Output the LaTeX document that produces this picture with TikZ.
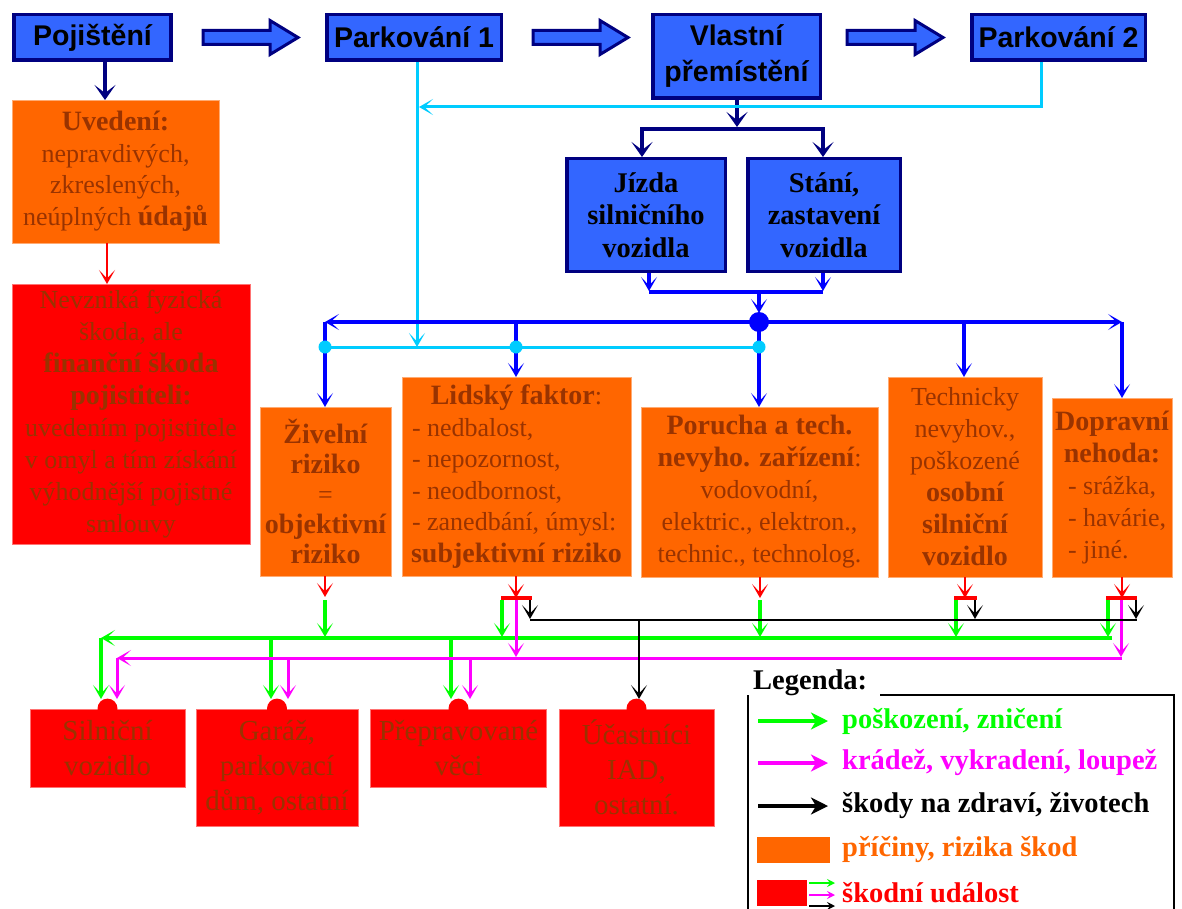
\documentclass[tikz,border=0pt]{standalone}
\usepackage{fontspec}
\setmainfont{Liberation Serif}
\newfontfamily\arialf{Liberation Sans}
\usetikzlibrary{arrows.meta}
\definecolor{boxblue}{HTML}{3366FF}
\definecolor{navyc}{HTML}{000080}
\definecolor{orng}{HTML}{FF6600}
\definecolor{brn}{HTML}{993300}
\definecolor{cyanc}{HTML}{00CCFF}
\definecolor{bluec}{HTML}{0000FF}
\definecolor{greenc}{HTML}{00FF00}
\definecolor{magc}{HTML}{FF00FF}
\definecolor{redc}{HTML}{FF0000}
\newcommand{\mybf}[1]{{\fontsize{28}{32}\selectfont\bfseries #1}}
\tikzset{
  Ah/.tip={Stealth[length=14pt,width=16pt,inset=8.5pt]},
  Nv/.tip={Stealth[length=15pt,width=21pt,inset=8pt]},
  Sm/.tip={Stealth[length=8pt,width=8pt,inset=3pt]},
  Lg/.tip={Stealth[length=17pt,width=17pt,inset=5pt]},
  topbox/.style={draw=navyc, line width=3.5pt, fill=boxblue, font=\arialf\bfseries\fontsize{28.5}{36}\selectfont, align=center, inner sep=0pt},
  bluebox/.style={draw=navyc, line width=3.5pt, fill=boxblue, font=\bfseries\fontsize{28.5}{32.5}\selectfont, align=center, inner sep=0pt},
  orbox/.style={fill=orng, draw=orng!55!white, line width=0.8pt, text=brn, font=\fontsize{26}{31.5}\selectfont, align=center, inner sep=0pt},
  redbox/.style={fill=redc, draw=redc!55!white, line width=0.8pt, text=brn, font=\fontsize{26}{32}\selectfont, align=center, inner sep=0pt},
  botbox/.style={redbox, font=\fontsize{29}{35}\selectfont},
  blockarr/.style={draw=navyc, fill=boxblue, line width=3pt, line join=miter},
  navyarr/.style={draw=navyc, line width=3.5pt, -Nv},
  cyanl/.style={draw=cyanc, line width=3pt},
  bluel/.style={draw=bluec, line width=3.5pt},
  redl/.style={draw=redc, line width=2.5pt},
  greenl/.style={draw=greenc, line width=3.5pt},
  magl/.style={draw=magc, line width=3pt},
  blackl/.style={draw=black, line width=2.5pt},
  legtext/.style={anchor=west, font=\bfseries\fontsize{28.5}{32}\selectfont, inner sep=0pt}
}
\newcommand{\blkarrow}[2]{\draw[blockarr] (#1,30.5) -- ({#2-28},30.5) -- ({#2-28},20.5) -- (#2,37.5) -- ({#2-28},54.5) -- ({#2-28},44.5) -- (#1,44.5) -- cycle;}
\begin{document}
\begin{tikzpicture}[x=1pt,y=-1pt]
\useasboundingbox (0,0) rectangle (1182,909);

% top row
\node[topbox, minimum width=157pt, minimum height=45.5pt] (poj) at (92.5,37.5) {Pojištění};
\node[topbox, minimum width=174.5pt, minimum height=45.5pt] (park1) at (414,37.5) {Parkování 1};
\node[topbox, minimum width=167.5pt, minimum height=83.5pt] (vlast) at (736.5,56.5) {Vlastní\\přemístění};
\node[topbox, minimum width=173.5pt, minimum height=45.5pt] (park2) at (1058.5,37.5) {Parkování 2};
\blkarrow{203}{298}
\blkarrow{533}{628}
\blkarrow{847}{943}

% blue boxes
\node[bluebox, minimum width=158.5pt, minimum height=112.5pt] (jizda) at (646,215) {Jízda\\silničního\\vozidla};
\node[bluebox, minimum width=152.5pt, minimum height=112.5pt] (stani) at (824,215) {Stání,\\zastavení\\vozidla};

% left column
\node[orbox, minimum width=207pt, minimum height=143pt] (uved) at (115.5,171.5) {\mybf{Uvedení:}\\nepravdivých,\\zkreslených,\\neúplných \mybf{údajů}};
\node[redbox, minimum width=238pt, minimum height=260pt] (nevz) at (131,414) {Nevzniká fyzická\\škoda, ale\\\mybf{finanční škoda}\\\mybf{pojistiteli:}\\uvedením pojistitele\\v omyl a tím získání\\výhodnější pojistné\\smlouvy};

% middle row of causes
\node[orbox, font=\fontsize{26}{30}\selectfont, minimum width=131pt, minimum height=169pt] (ziv) at (325.5,491.5) {\mybf{Živelní}\\\mybf{riziko}\\=\\\mybf{objektivní}\\\mybf{riziko}};
\node[orbox, minimum width=229pt, minimum height=199pt] (lid) at (516.5,476.5) {\mybf{Lidský faktor}:\\\makebox[209pt][l]{- nedbalost,}\\\makebox[209pt][l]{- nepozornost,}\\\makebox[209pt][l]{- neodbornost,}\\\makebox[209pt][l]{- zanedbání, úmysl:}\\\mybf{subjektivní riziko}};
\node[orbox, font=\fontsize{26}{32}\selectfont, minimum width=237pt, minimum height=170pt] (por) at (759.5,492) {\mybf{Porucha a tech.}\\\mybf{nevyho. zařízení}:\\vodovodní,\\elektric., elektron.,\\technic., technolog.};
\node[orbox, font=\fontsize{26}{32}\selectfont, minimum width=154pt, minimum height=200pt] (tech) at (965,477) {Technicky\\nevyhov.,\\poškozené\\\mybf{osobní}\\\mybf{silniční}\\\mybf{vozidlo}};
\node[orbox, font=\fontsize{26}{32}\selectfont, minimum width=120pt, minimum height=179pt] (dopr) at (1112,487.5) {\mybf{Dopravní}\\\mybf{nehoda:}\\\makebox[88pt][l]{- srážka,}\\\makebox[88pt][l]{- havárie,}\\\makebox[88pt][l]{- jiné.}};

% bottom events
\node[botbox, minimum width=155pt, minimum height=78pt] (silv) at (107.5,748) {Silniční\\vozidlo};
\node[botbox, minimum width=162pt, minimum height=117pt] (garaz) at (277,767.5) {Garáž,\\parkovací\\dům, ostatní};
\node[botbox, minimum width=176pt, minimum height=78pt] (prepr) at (458.5,748) {Přepravované\\věci};
\node[botbox, minimum width=155pt, minimum height=117pt] (ucast) at (636.5,767.5) {Účastníci\\IAD,\\ostatní.};
\foreach \b in {silv,garaz,prepr,ucast} \fill[redc] (\b.north) circle (10pt);

% navy connectors
\draw[navyarr] (105,62) -- (105,100);
\draw[navyarr] (737,100) -- (737,127);
\draw[draw=navyc, line width=3.5pt, line join=miter, Nv-Nv] (642,157) -- (642,129) -- (823,129) -- (823,157);

% cyan connectors
\draw[cyanl, -Ah] (1041,62) -- (1041,107) -- (419,107);
\draw[cyanl, -Ah] (417,62) -- (417,347);
\draw[cyanl] (325,347) -- (759,347);

% blue connectors
\draw[bluel, -Ah] (649,273) -- (649,291);
\draw[bluel, -Ah] (823,273) -- (823,291);
\draw[bluel] (649,292) -- (823,292);
\draw[bluel, -Ah] (759,292) -- (759,313);
\draw[bluel, -Ah] (759,322) -- (325,322);
\draw[bluel, -Ah] (325,322) -- (325,407);
\draw[bluel, -Ah] (516,322) -- (516,377);
\draw[bluel, -Ah] (759,322) -- (759,407);
\draw[bluel, -Ah] (759,322) -- (1122,322);
\draw[bluel, -Ah] (1122,322) -- (1122,398);
\draw[bluel, -Ah] (964,322) -- (964,377);
\fill[bluec] (759,322) circle (10pt);
\foreach \x in {325,516,759} \fill[cyanc] (\x,347) circle (6.5pt);

% red connectors
\draw[redl, -Ah] (107,243) -- (107,284);
\draw[redl, -Ah] (325,576) -- (325,597);
\draw[redl, -Ah] (516,576) -- (516,598);
\draw[redl, -Ah] (760,577) -- (760,598);
\draw[redl, -Ah] (965,577) -- (965,598);
\draw[redl, -Ah] (1122,577) -- (1122,598);
\draw[redc, line width=3.5pt] (501,598) -- (532,598);
\draw[redc, line width=3.5pt] (954,598) -- (977,598);
\draw[redc, line width=3.5pt] (1106,598) -- (1137,598);

% green connectors
\draw[greenl, -Ah] (325,600) -- (325,637);
\draw[greenl, -Ah] (502,600) -- (502,637);
\draw[greenl, -Ah] (760,600) -- (760,637);
\draw[greenl, -Ah] (956,600) -- (956,637);
\draw[greenl, -Ah] (1108,600) -- (1108,637);
\draw[greenl, -Ah] (1112,638) -- (101,638);
\draw[greenl, -Ah] (101,638) -- (101,699);
\draw[greenl, -Ah] (271,638) -- (271,699);
\draw[greenl, -Ah] (451,638) -- (451,699);

% magenta connectors
\draw[magl, -Ah] (516,600) -- (516,657);
\draw[magl, -Ah] (1121,600) -- (1121,657);
\draw[magl, -Ah] (1122,658) -- (117,658);
\draw[magl, -Ah] (117,658) -- (117,699);
\draw[magl, -Ah] (288,658) -- (288,699);
\draw[magl, -Ah] (470,658) -- (470,699);

% black connectors
\draw[blackl] (530,620) -- (1137,620);
\draw[blackl, -Ah] (530,600) -- (530,619);
\draw[blackl, -Ah] (975,600) -- (975,619);
\draw[blackl, -Ah] (1136,600) -- (1136,619);
\draw[blackl, -Ah] (639,620) -- (639,699);

% legend
\node[legtext] (leg) at (753,683) {Legenda:};
\draw[line width=2pt] (748,915) -- (748,695);
\draw[line width=2pt] (880,695) -- (1174,695) -- (1174,915);
\draw[greenc, line width=4.5pt, -Lg] (758,721) -- (828,721);
\draw[magc, line width=4.5pt, -Lg] (758,763) -- (828,763);
\draw[black, line width=4.5pt, -Lg] (758,806) -- (828,806);
\node[legtext, text=greenc] (l1) at (842,721) {poškození, zničení};
\node[legtext, text=magc] (l2) at (842,763) {krádež, vykradení, loupež};
\node[legtext, text=black] (l3) at (842,806) {škody na zdraví, životech};
\node[fill=orng, minimum width=73pt, minimum height=26pt, inner sep=0pt] (lor) at (793.5,850) {};
\node[legtext, text=orng] (l4) at (842,850) {příčiny, rizika škod};
\node[fill=redc, minimum width=50pt, minimum height=26pt, inner sep=0pt] (lred) at (782,893) {};
\draw[greenc, line width=2.5pt, -Sm] (809,883) -- (835,883);
\draw[magc, line width=2.5pt, -Sm] (809,895) -- (835,895);
\draw[black, line width=2.5pt, -Sm] (809,906) -- (835,906);
\node[legtext, text=redc] (l5) at (842,893) {škodní událost};
\end{tikzpicture}
\end{document}
